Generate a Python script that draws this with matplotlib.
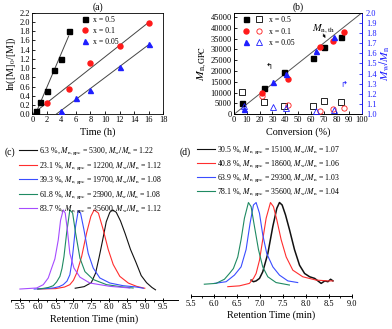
import matplotlib
matplotlib.use("Agg")
import matplotlib.pyplot as plt
from matplotlib.legend_handler import HandlerTuple
from matplotlib.lines import Line2D
import numpy as np

plt.rcParams["font.family"] = ["Liberation Serif", "DejaVu Sans"]
plt.rcParams["mathtext.fontset"] = "stix"

# ---- (a) kinetics: ln([M]0/[M]) vs time
t_05 = [0.5, 1, 2, 3, 4, 5]
ln_05 = [0.07, 0.26, 0.50, 0.96, 1.20, 1.81]
t_01 = [2, 5, 8, 12, 16]
ln_01 = [0.24, 0.55, 1.12, 1.47, 1.97]
t_005 = [4, 6, 8, 12, 16]
ln_005 = [0.08, 0.36, 0.53, 1.02, 1.52]

# ---- (b) Mn and PDI vs conversion
conv_05 = [6.3, 23.1, 39.3, 61.8, 70.0, 83.7]
mn_05 = [5300, 12200, 19700, 25900, 31300, 35600]
pdi_05 = [1.22, 1.12, 1.08, 1.08, 1.13, 1.12]
conv_01 = [21.8, 42.0, 67.5, 77.0, 86.0]
mn_01 = [10000, 16100, 31000, 34000, 38300]
pdi_01 = [1.18, 1.09, 1.03, 1.05, 1.06]
conv_005 = [8.0, 30.5, 40.8, 63.9, 78.1]
mn_005 = [2600, 15100, 18600, 29300, 35600]
pdi_005 = [1.08, 1.07, 1.06, 1.03, 1.04]
conv_th = [0, 100]
mn_th = [0, 47000]

# ---- (c) GPC traces, x = 0.5
c_labels = [r"6.3 %, $M_{\rm n,gpc}$ = 5300, $M_{\rm w}/M_{\rm n}$ = 1.22",
            r"23.1 %, $M_{\rm n,gpc}$ = 12200, $M_{\rm w}/M_{\rm n}$ = 1.12",
            r"39.3 %, $M_{\rm n,gpc}$ = 19700, $M_{\rm w}/M_{\rm n}$ = 1.08",
            r"61.8 %, $M_{\rm n,gpc}$ = 25900, $M_{\rm w}/M_{\rm n}$ = 1.08",
            r"83.7 %, $M_{\rm n,gpc}$ = 35600, $M_{\rm w}/M_{\rm n}$ = 1.12"]
c_black_t = [7.05, 7.3, 7.5, 7.62, 7.72, 7.82, 7.92, 8.02, 8.10, 8.2, 8.32, 8.45, 8.6, 8.75, 8.9, 9.05, 9.2, 9.3]
c_black_i = [0.01, 0.03, 0.08, 0.2, 0.4, 0.62, 0.85, 0.97, 1.0, 0.97, 0.86, 0.70, 0.5, 0.34, 0.17, 0.08, 0.02, -0.01]
c_red_t = [6.0, 6.5, 6.75, 6.9, 7.0, 7.09, 7.23, 7.37, 7.49, 7.58, 7.70, 7.835, 7.975, 8.115, 8.30, 8.54, 8.77, 8.96, 9.0]
c_red_i = [0.0, 0.005, 0.025, 0.055, 0.11, 0.20, 0.41, 0.71, 0.92, 1.0, 0.96, 0.75, 0.50, 0.31, 0.16, 0.075, 0.034, 0.013, 0.01]
c_blue_t = [5.9, 6.2, 6.435, 6.6, 6.715, 6.82, 6.90, 6.95, 6.995, 7.06, 7.135, 7.20, 7.295, 7.415, 7.555, 7.74, 8.02, 8.395, 8.77, 8.96]
c_blue_i = [0.0, 0.005, 0.013, 0.03, 0.055, 0.10, 0.18, 0.32, 0.50, 0.79, 0.99, 0.96, 0.75, 0.45, 0.265, 0.14, 0.076, 0.042, 0.025, 0.01]
c_green_t = [6.0, 6.155, 6.3, 6.435, 6.53, 6.622, 6.68, 6.735, 6.81, 6.90, 6.978, 7.06, 7.183, 7.323, 7.555, 7.93, 8.395, 8.675]
c_green_i = [0.0, 0.008, 0.02, 0.042, 0.09, 0.16, 0.26, 0.41, 0.71, 1.0, 0.96, 0.71, 0.39, 0.22, 0.12, 0.055, 0.025, 0.013]
c_purple_t = [5.5, 5.97, 6.155, 6.295, 6.39, 6.48, 6.575, 6.64, 6.715, 6.77, 6.83, 6.90, 7.015, 7.183, 7.46, 8.02, 8.58]
c_purple_i = [0.0, 0.013, 0.055, 0.14, 0.265, 0.38, 0.62, 0.87, 1.0, 0.96, 0.75, 0.45, 0.265, 0.15, 0.076, 0.034, 0.013]

# ---- (d) GPC traces, x = 0.05
d_labels = [r"30.5 %, $M_{\rm n,gpc}$ = 15100, $M_{\rm w}/M_{\rm n}$ = 1.07",
            r"40.8 %, $M_{\rm n,gpc}$ = 18600, $M_{\rm w}/M_{\rm n}$ = 1.06",
            r"63.9 %, $M_{\rm n,gpc}$ = 29300, $M_{\rm w}/M_{\rm n}$ = 1.03",
            r"78.1 %, $M_{\rm n,gpc}$ = 35600, $M_{\rm w}/M_{\rm n}$ = 1.04"]
d_black_t = [6.807, 6.858, 6.916, 6.989, 7.06, 7.17, 7.279, 7.366, 7.424, 7.482, 7.555, 7.642, 7.75,
             7.86, 7.97, 8.08, 8.19, 8.26, 8.33, 8.41, 8.477, 8.535, 8.586]
d_black_i = [0.06, 0.04, 0.05, 0.08, 0.16, 0.38, 0.71, 0.93, 1.0, 0.97, 0.85, 0.67, 0.43,
             0.24, 0.14, 0.10, 0.08, 0.05, 0.02, 0.05, 0.04, 0.07, 0.05]
d_red_t = [6.30, 6.553, 6.77, 6.858, 6.916, 6.989, 7.06, 7.134, 7.228, 7.293, 7.366, 7.46, 7.57, 7.714, 7.93, 8.22, 8.477, 8.586]
d_red_i = [-0.02, -0.01, 0.02, 0.08, 0.14, 0.30, 0.55, 0.81, 1.0, 0.95, 0.79, 0.55, 0.34, 0.18, 0.10, 0.06, 0.05, 0.05]
d_blue_t = [6.01, 6.263, 6.444, 6.589, 6.698, 6.785, 6.858, 6.916, 6.989, 7.06, 7.148, 7.28, 7.424, 7.606, 7.82]
d_blue_i = [0.02, 0.04, 0.12, 0.22, 0.43, 0.75, 0.97, 1.0, 0.87, 0.61, 0.38, 0.22, 0.12, 0.05, 0.03]
d_green_t = [5.79, 6.045, 6.227, 6.336, 6.422, 6.517, 6.589, 6.662, 6.749, 6.807, 6.88, 6.967, 7.06, 7.17, 7.35, 7.64]
d_green_i = [0.01, 0.02, 0.07, 0.14, 0.20, 0.34, 0.55, 0.81, 1.0, 0.95, 0.71, 0.43, 0.22, 0.10, 0.03, 0.0]

RED, BLUE = "#ff1a1a", "#1f1fff"
GC = {"black": "#111111", "red": "#ff2e2e", "blue": "#3a4dff", "green": "#1f8a62", "purple": "#a64cff"}
TICK = 6.0
LAB = 7.3

fig = plt.figure(figsize=(3.92, 3.29), dpi=100)

# ================= (a)
ax = fig.add_axes([0.0824, 0.6526, 0.334, 0.3088])
for tt, yy, c, m, lab in [(t_05, ln_05, "black", "s", "x = 0.5"),
                          (t_01, ln_01, RED, "o", "x = 0.1"),
                          (t_005, ln_005, BLUE, "^", "x = 0.05")]:
    k, b = np.polyfit(tt, yy, 1)
    x0 = max(-b / k, 0)
    xs = np.array([x0, tt[-1]])
    ax.plot(xs, k * xs + b, color="#444444", lw=0.7, zorder=1)
    ax.plot(tt, yy, ls="none", marker=m, color=c, ms=3.6, label=lab, zorder=3)
ax.set_xlim(0, 18)
ax.set_ylim(0, 2.2)
ax.set_xticks(np.arange(0, 19, 2))
ax.set_yticks(np.arange(0, 2.21, 0.2))
ax.set_yticklabels([f"{v:.1f}" for v in np.arange(0, 2.21, 0.2)])
ax.tick_params(direction="in", labelsize=TICK, length=2, width=0.6, pad=1.5)
for s in ax.spines.values():
    s.set_linewidth(0.6)
ax.set_xlabel("Time (h)", fontsize=LAB, labelpad=2)
ax.set_ylabel("ln([M]$_0$/[M])", fontsize=LAB, labelpad=1.5)
ax.set_title("(a)", fontsize=7, pad=2)
ax.legend(loc="upper left", bbox_to_anchor=(0.33, 1.02), frameon=False, fontsize=5.6,
          handlelength=1.0, handletextpad=0.6, labelspacing=0.35, borderpad=0.2)

# ================= (b)
bx = fig.add_axes([0.597, 0.6526, 0.3265, 0.3088])
bx2 = bx.twinx()
bx.plot(conv_th, mn_th, color="#555555", lw=0.7, zorder=1)
hs = []
for cv, mn, pd, c, m, lab in [(conv_05, mn_05, pdi_05, "black", "s", "x = 0.5"),
                              (conv_01, mn_01, pdi_01, RED, "o", "x = 0.1"),
                              (conv_005, mn_005, pdi_005, BLUE, "^", "x = 0.05")]:
    h1, = bx.plot(cv, mn, ls="none", marker=m, color=c, ms=3.6, zorder=3)
    h2, = bx2.plot(cv, pd, ls="none", marker=m, mfc="none", mec=c, mew=0.6, ms=3.8, zorder=3)
    hs.append(((h1, h2), lab))
bx.set_xlim(0, 100)
bx.set_ylim(0, 47000)
bx2.set_ylim(1.0, 2.0)
bx.set_xticks(np.arange(0, 101, 10))
bx.set_yticks(np.arange(0, 45001, 5000))
bx2.set_yticks(np.arange(1.0, 2.01, 0.1))
bx2.set_yticklabels([f"{v:.1f}" for v in np.arange(1.0, 2.01, 0.1)])
bx.tick_params(direction="in", labelsize=TICK, length=2, width=0.6, pad=1.5)
bx2.tick_params(direction="in", labelsize=TICK, length=2, width=0.6, pad=2.8,
                colors=BLUE)
for s in bx.spines.values():
    s.set_linewidth(0.6)
for s in bx2.spines.values():
    s.set_linewidth(0.6)
bx2.spines["right"].set_color(BLUE)
bx.set_xlabel("Conversion (%)", fontsize=LAB, labelpad=2)
bx.set_ylabel(r"$M_{\rm n,GPC}$", fontsize=8.5, labelpad=1)
bx2.set_ylabel(r"$M_{\rm w}/M_{\rm n}$", fontsize=8.5, color=BLUE, labelpad=0.5)
bx.set_title("(b)", fontsize=7, pad=2)
bx.legend([h for h, _ in hs], [l for _, l in hs], handler_map={tuple: HandlerTuple(ndivide=None, pad=0.8)},
          loc="upper left", bbox_to_anchor=(0.02, 1.02), frameon=False, fontsize=5.6,
          handlelength=2.6, handletextpad=0.9, labelspacing=0.45, borderpad=0.2)
bx.text(61, 38500, r"$M_{\rm n,th}$", fontsize=7.5)
bx.annotate("", xy=(72.5, 34200), xytext=(68.5, 38300),
            arrowprops=dict(arrowstyle="-|>", lw=0.5, color="black", mutation_scale=4))
bx.text(27.5, 22000, "\u21b0", fontsize=6, ha="center", va="center",
        family=["DejaVu Sans"], color="black")
bx2.text(86, 1.29, "\u21b1", fontsize=6, ha="center", va="center",
         family=["DejaVu Sans"], color=BLUE)

# ================= (c)
cx = fig.add_axes([0.028, 0.0881, 0.426, 0.289])
c_series = [(c_black_t, c_black_i, GC["black"]), (c_red_t, c_red_i, GC["red"]),
            (c_blue_t, c_blue_i, GC["blue"]), (c_green_t, c_green_i, GC["green"]),
            (c_purple_t, c_purple_i, GC["purple"])]
for tt, ii, col in c_series:
    cx.plot(tt, ii, color=col, lw=0.8)
cx.set_xlim(5.25, 9.93)
cx.set_ylim(-0.139, 1.063)

# ================= (d)
dx = fig.add_axes([0.4872, 0.0988, 0.4107, 0.2994])
d_series = [(d_black_t, d_black_i, GC["black"], 1.1), (d_red_t, d_red_i, GC["red"], 0.8),
            (d_blue_t, d_blue_i, GC["blue"], 0.8), (d_green_t, d_green_i, GC["green"], 0.8)]
for tt, ii, col, lw in d_series:
    dx.plot(tt, ii, color=col, lw=lw)
dx.set_xlim(5.5, 9.0)
dx.set_ylim(-0.139, 1.055)

for a, ticks in [(cx, np.arange(5.5, 9.51, 0.5)), (dx, np.arange(5.5, 9.01, 0.5))]:
    for sp in ["left", "right", "top"]:
        a.spines[sp].set_visible(False)
    a.spines["bottom"].set_linewidth(0.7)
    a.set_yticks([])
    a.set_xticks(ticks)
    a.set_xticklabels([f"{v:.1f}" for v in ticks])
    a.set_xticks(np.arange(ticks[0] - 0.25 if a is cx else ticks[0], ticks[-1] + 0.01, 0.25), minor=True)
    a.tick_params(axis="x", which="major", direction="inout", length=3, width=0.7, labelsize=TICK, pad=1)
    a.tick_params(axis="x", which="minor", direction="out", length=1.5, width=0.6)
    a.set_xlabel("Retention Time (min)", fontsize=LAB, labelpad=2)
    a.patch.set_alpha(0)

c_handles = [Line2D([], [], color=col, lw=0.8) for _, _, col in c_series]
cx.legend(c_handles, c_labels, loc="upper left", bbox_to_anchor=(0.048, 0.558),
          bbox_transform=fig.transFigure, frameon=False, fontsize=5.6, handlelength=2.3,
          handletextpad=0.3, labelspacing=0.35, borderpad=0, borderaxespad=0)
d_handles = [Line2D([], [], color=col, lw=0.8) for _, _, col, _ in d_series]
dx.legend(d_handles, d_labels, loc="upper left", bbox_to_anchor=(0.503, 0.562),
          bbox_transform=fig.transFigure, frameon=False, fontsize=5.6, handlelength=2.3,
          handletextpad=0.3, labelspacing=0.28, borderpad=0, borderaxespad=0)
fig.text(0.026, 0.538, "(c)", fontsize=7, ha="center", va="center")
fig.text(0.472, 0.538, "(d)", fontsize=7, ha="center", va="center")

fig.savefig("out.png", dpi=100)
